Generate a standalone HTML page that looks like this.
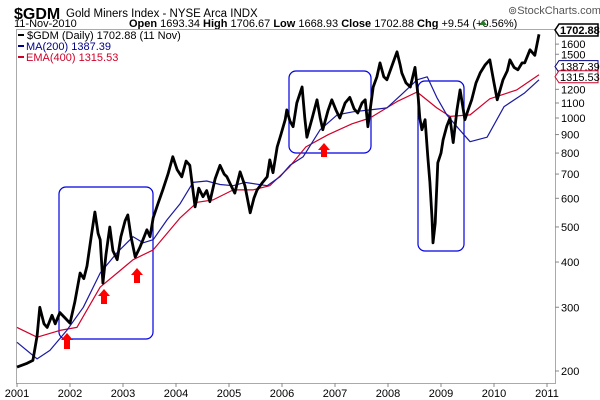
<!DOCTYPE html>
<html><head><meta charset="utf-8"><style>
body{margin:0;background:#fff;font-family:"Liberation Sans",sans-serif}
svg{display:block}
</style></head><body>
<svg id="c" width="600" height="400" xmlns="http://www.w3.org/2000/svg" font-family="Liberation Sans, sans-serif">
<text x="14" y="19" font-size="16" font-weight="bold">$GDM</text>
<text x="66" y="17" font-size="11.5">Gold Miners Index - NYSE Arca INDX</text>
<text x="508" y="14" font-size="11" fill="#555">⊚StockCharts.com</text>
<text x="14" y="27" font-size="11">11-Nov-2010</text>
<text x="129" y="27" font-size="11"><tspan font-weight="bold">Open</tspan> 1693.34 <tspan font-weight="bold">High</tspan> 1706.67 <tspan font-weight="bold">Low</tspan> 1668.93 <tspan font-weight="bold">Close</tspan> 1702.88 <tspan font-weight="bold">Chg</tspan> +9.54 (+0.56%)</text>
<polygon points="479,25 483,20 487,25" fill="#2a7a2a"/>
<rect x="16.5" y="29.5" width="539" height="354" fill="none" stroke="#aaa"/>
<g id="ticks"></g>
<g id="boxes" fill="none" stroke="#0000e0" stroke-width="1.2">
<rect x="59" y="187" width="94" height="152" rx="7"/>
<rect x="289" y="71" width="82" height="82" rx="7"/>
<rect x="418" y="81" width="46" height="170" rx="7"/>
</g>
<g id="series"></g>
<g fill="#f00">
<polygon points="67,333 73,340 70,340 70,349 64,349 64,340 61,340"/>
<polygon points="104,289 110,296 107,296 107,304 101,304 101,296 98,296"/>
<polygon points="137,268 143,275 140,275 140,283 134,283 134,275 131,275"/>
<polygon points="324,143 330,150 327,150 327,157 321,157 321,150 318,150"/>
</g>
<g font-size="11">
<rect x="17" y="30" width="170" height="35" fill="#fff"/>
<line x1="18" y1="35" x2="24" y2="35" stroke="#000" stroke-width="2"/>
<text x="27" y="39">$GDM (Daily) 1702.88 (11 Nov)</text>
<line x1="18" y1="46" x2="24" y2="46" stroke="#00008b" stroke-width="2"/>
<text x="26" y="50" fill="#00008b">MA(200) 1387.39</text>
<line x1="18" y1="57" x2="24" y2="57" stroke="#d0002a" stroke-width="2"/>
<text x="26" y="61" fill="#d0002a">EMA(400) 1315.53</text>
</g>
<g id="tags" font-size="11"></g>
</svg>
<script>
const priceDates=[2001.00,2001.19,2001.30,2001.38,2001.43,2001.51,2001.57,2001.66,2001.72,2001.81,2001.91,2002.00,2002.09,2002.19,2002.26,2002.32,2002.40,2002.47,2002.53,2002.57,2002.62,2002.68,2002.75,2002.81,2002.89,2002.96,2003.04,2003.09,2003.15,2003.23,2003.32,2003.40,2003.45,2003.51,2003.57,2003.66,2003.75,2003.85,2003.94,2004.02,2004.11,2004.19,2004.26,2004.36,2004.43,2004.51,2004.58,2004.64,2004.74,2004.83,2004.91,2004.96,2005.04,2005.11,2005.21,2005.30,2005.40,2005.47,2005.53,2005.62,2005.72,2005.77,2005.83,2005.91,2005.98,2006.06,2006.09,2006.15,2006.21,2006.28,2006.38,2006.43,2006.47,2006.57,2006.66,2006.72,2006.77,2006.87,2006.94,2007.02,2007.09,2007.19,2007.28,2007.36,2007.43,2007.51,2007.57,2007.62,2007.72,2007.79,2007.85,2007.92,2007.98,2008.08,2008.17,2008.23,2008.26,2008.34,2008.42,2008.51,2008.57,2008.60,2008.64,2008.70,2008.75,2008.79,2008.83,2008.85,2008.89,2008.94,2009.00,2009.04,2009.11,2009.17,2009.23,2009.30,2009.36,2009.45,2009.51,2009.58,2009.66,2009.74,2009.83,2009.92,2010.00,2010.06,2010.17,2010.25,2010.30,2010.38,2010.45,2010.53,2010.58,2010.68,2010.77,2010.83,2010.85];
const priceValues=[205,210,214,250,300,270,264,285,270,290,280,271,310,373,360,390,470,550,480,461,350,420,500,430,406,470,520,540,470,413,440,470,491,470,530,580,633,700,782,720,688,760,740,568,640,606,630,587,680,740,700,688,650,620,710,650,547,600,633,660,688,766,706,832,900,989,1053,980,946,1100,1218,1000,885,1000,1123,1000,928,1050,1123,1050,1000,1100,1140,1060,1032,1100,1123,946,1218,1300,1420,1300,1275,1400,1524,1400,1332,1250,1218,1380,1140,1000,928,989,782,664,530,452,512,752,800,870,950,1000,855,1050,1196,989,1050,1123,1250,1332,1400,1448,1250,1123,1275,1350,1448,1380,1359,1420,1420,1543,1490,1650,1703];
const maDates=[2001.0,2001.38,2001.62,2001.94,2002.25,2002.57,2002.89,2003.19,2003.38,2003.57,2003.83,2004.08,2004.32,2004.58,2004.83,2005.08,2005.30,2005.72,2005.96,2006.15,2006.40,2006.72,2007.04,2007.34,2007.66,2007.98,2008.28,2008.55,2008.74,2008.92,2009.11,2009.30,2009.55,2009.87,2010.19,2010.57,2010.85];
const maValues=[240,216,228,259,300,373,425,470,452,461,523,580,664,670,655,650,664,650,688,740,782,928,1020,1040,1053,1066,1170,1275,1300,1140,1020,946,860,885,1075,1170,1275,1387];
const emaDates=[2001.0,2001.38,2001.81,2002.13,2002.57,2002.89,2003.19,2003.57,2004.08,2004.40,2004.70,2005.08,2005.45,2005.77,2006.13,2006.45,2006.87,2007.32,2007.66,2008.17,2008.55,2008.92,2009.17,2009.55,2009.92,2010.43,2010.85];
const emaValues=[264,248,259,264,341,373,406,432,530,585,594,633,633,650,730,832,899,964,1000,1110,1180,1066,1010,1020,1130,1196,1316];
const yTicks=[200,300,400,500,600,700,800,900,1000,1100,1200,1500,1600];
const xTicks=[2001,2002,2003,2004,2005,2006,2007,2008,2009,2010,2011];
const NS="http://www.w3.org/2000/svg";
function X(t){return 17+(t-2001)*53;}
function Y(v){return 371-157.2*Math.log(v/200);}
function mk(tag,attrs,parent){const e=document.createElementNS(NS,tag);for(const k in attrs)e.setAttribute(k,attrs[k]);parent.appendChild(e);return e;}
const tg=document.getElementById('ticks');
yTicks.forEach(v=>{
 const y=Y(v);
 const l=mk('line',{x1:555,x2:559,y1:y,y2:y,stroke:'#888'},tg);
 
 
 const t=mk('text',{x:561,y:y+4,'font-size':11},tg);t.textContent=v;
 
 
});
xTicks.forEach(yr=>{
 const x=X(yr);
 const l=mk('line',{x1:x,x2:x,y1:383,y2:387,stroke:'#888'},tg);
 
 
 const t=mk('text',{x:x,y:397,'font-size':11,'text-anchor':'middle'},tg);t.textContent=yr;
 
 
});
const sg=document.getElementById('series');
function line(d,v,color,w,name){
 const n=Math.min(d.length,v.length);
 const pts=[];for(let i=0;i<n;i++)pts.push(X(d[i]).toFixed(1)+','+Y(v[i]).toFixed(1));
 const p=mk('polyline',{points:pts.join(' '),fill:'none',stroke:color,'stroke-width':w,'stroke-linejoin':'round'},sg);
 
 
}
line(emaDates,emaValues,'#d0002a',1.2,'ema400-line');
line(maDates,maValues,'#1a1aa0',1.2,'ma200-line');
line(priceDates,priceValues,'#000',2.8,'price-line');
const tags=document.getElementById('tags');
function tag(v,txt,color,bold,name){
 const y=Y(v);
 const g=mk('g',{},tags);
 
 
 mk('path',{d:`M555,${y} L559,${y-6} L598,${y-6} L598,${y+6} L559,${y+6} Z`,fill:'#fff',stroke:color,'stroke-width':bold?1.5:1},g);
 const t=mk('text',{x:560,y:y+4,'font-size':11,'font-weight':bold?'bold':'normal',fill:'#000'},g);t.textContent=txt;
}
tag(1750,'1702.88','#000',true,'last-price-tag');
tag(1387,'1387.39','#00008b',false,'ma200-tag');
tag(1300,'1315.53','#d0002a',false,'ema400-tag');
</script>
</body></html>
